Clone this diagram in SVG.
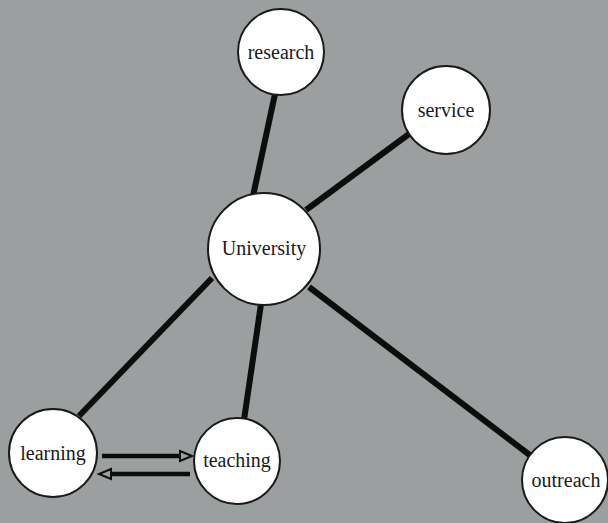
<svg xmlns="http://www.w3.org/2000/svg" width="608" height="523" viewBox="0 0 608 523">
<defs>
<style>
.node circle{fill:#ffffff;stroke:#1a1a1a;stroke-width:2}
.node text{font-family:"Liberation Serif","Times New Roman",serif;font-size:20px;fill:#1a1a1a;text-anchor:middle}
.edge{stroke:#0d0d0d;stroke-width:6;stroke-linecap:butt}
.arr{stroke:#0d0d0d;stroke-width:4.5;fill:none}
.head{fill:#9c9f9f;stroke:#0d0d0d;stroke-width:2;stroke-linejoin:miter}
</style>
</defs>
<rect width="608" height="523" fill="#9c9f9f"/>
<g id="connectors">
<line class="edge" x1="275" y1="94" x2="253" y2="196"/>
<line class="edge" x1="409" y1="134" x2="306" y2="210"/>
<line class="edge" x1="212" y1="278" x2="79" y2="416"/>
<line class="edge" x1="261" y1="304" x2="244" y2="420"/>
<line class="edge" x1="309" y1="287" x2="531" y2="456"/>
<line class="arr" x1="102" y1="456" x2="180" y2="456"/>
<path class="head" d="M180,451 L192,456 L180,461 Z"/>
<line class="arr" x1="190" y1="474" x2="111" y2="474"/>
<path class="head" d="M111,469 L99,474 L111,479 Z"/>
</g>
<g id="research" class="node"><circle cx="281" cy="52" r="43"/><text x="281" y="59">research</text></g>
<g id="service" class="node"><circle cx="446" cy="110" r="44"/><text x="446" y="117">service</text></g>
<g id="university" class="node"><circle cx="264" cy="249" r="56"/><text x="264" y="255">University</text></g>
<g id="learning" class="node"><circle cx="53" cy="453" r="44"/><text x="53" y="460">learning</text></g>
<g id="teaching" class="node"><circle cx="237" cy="461" r="43"/><text x="237" y="467">teaching</text></g>
<g id="outreach" class="node"><circle cx="565" cy="480" r="43"/><text x="566" y="487">outreach</text></g>
</svg>
